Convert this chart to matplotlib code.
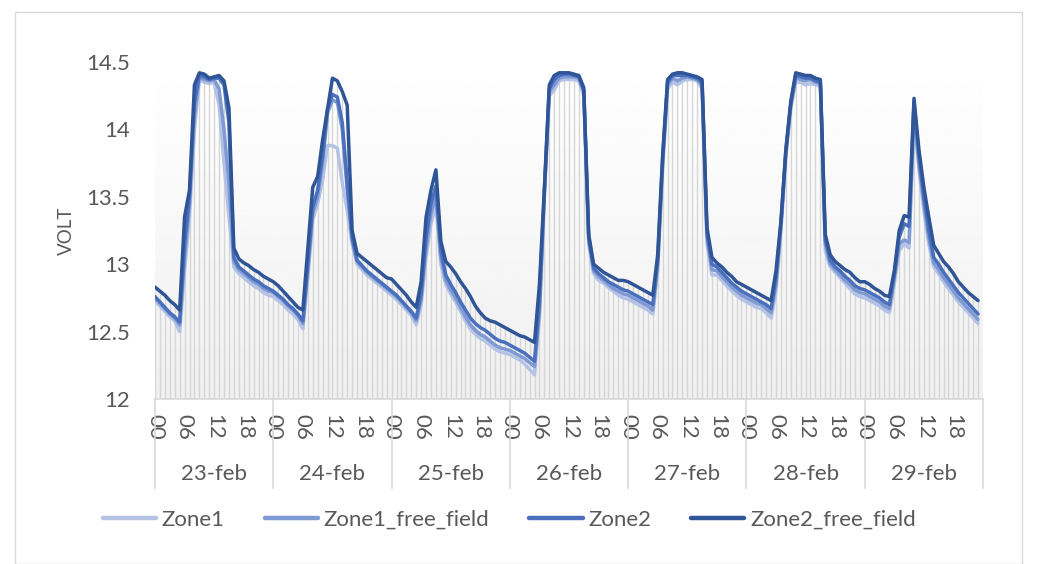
import matplotlib
matplotlib.use("Agg")
import matplotlib.pyplot as plt
import numpy as np
from matplotlib.patches import Rectangle

plt.rcParams['font.family'] = ['Lato', 'DejaVu Sans']

# hourly readings, 23-feb 00:00 .. 29-feb 23:00
days = ['23-feb', '24-feb', '25-feb', '26-feb', '27-feb', '28-feb', '29-feb']
hour_labels = ['00', '06', '12', '18']

zone1 = [
    12.73, 12.69, 12.65, 12.61, 12.58, 12.50, 12.95, 13.35, 14.00, 14.37, 14.35, 14.34, 14.35, 14.18, 13.75, 13.35, 12.98, 12.93, 12.90, 12.87, 12.84, 12.82, 12.79, 12.77,
    12.76, 12.73, 12.70, 12.66, 12.63, 12.59, 12.52, 12.90, 13.33, 13.45, 13.62, 13.88, 13.88, 13.86, 13.60, 13.40, 13.15, 13.00, 12.96, 12.92, 12.89, 12.86, 12.83, 12.80,
    12.77, 12.74, 12.70, 12.66, 12.62, 12.55, 12.70, 13.05, 13.30, 13.45, 13.00, 12.85, 12.78, 12.72, 12.65, 12.58, 12.52, 12.48, 12.45, 12.43, 12.40, 12.37, 12.35, 12.34,
    12.33, 12.31, 12.29, 12.26, 12.22, 12.18, 12.60, 13.50, 14.25, 14.29, 14.36, 14.37, 14.37, 14.37, 14.36, 14.25, 13.15, 12.93, 12.88, 12.86, 12.83, 12.80, 12.77, 12.75,
    12.74, 12.72, 12.70, 12.68, 12.66, 12.63, 12.95, 13.70, 14.30, 14.35, 14.33, 14.36, 14.37, 14.37, 14.36, 14.30, 13.15, 12.92, 12.92, 12.88, 12.84, 12.80, 12.77, 12.74,
    12.72, 12.70, 12.68, 12.67, 12.64, 12.60, 12.80, 13.25, 13.80, 14.15, 14.35, 14.35, 14.33, 14.34, 14.33, 14.32, 13.10, 12.98, 12.94, 12.90, 12.86, 12.82, 12.78, 12.76,
    12.75, 12.73, 12.71, 12.69, 12.66, 12.64, 12.85, 13.10, 13.15, 13.12, 14.10, 13.70, 13.40, 13.15, 12.98, 12.93, 12.87, 12.82, 12.77, 12.72, 12.68, 12.64, 12.60, 12.56,
]
zone1_ff = [
    12.75, 12.71, 12.67, 12.63, 12.60, 12.55, 13.05, 13.45, 14.10, 14.39, 14.37, 14.36, 14.37, 14.30, 14.00, 13.60, 13.02, 12.96, 12.93, 12.90, 12.87, 12.85, 12.82, 12.80,
    12.79, 12.76, 12.73, 12.69, 12.66, 12.62, 12.56, 12.95, 13.38, 13.50, 13.75, 14.12, 14.22, 14.20, 14.00, 13.55, 13.18, 13.02, 12.98, 12.94, 12.91, 12.88, 12.85, 12.82,
    12.79, 12.76, 12.72, 12.68, 12.64, 12.58, 12.74, 13.12, 13.38, 13.50, 13.05, 12.88, 12.81, 12.75, 12.68, 12.61, 12.55, 12.51, 12.48, 12.46, 12.43, 12.40, 12.38, 12.37,
    12.36, 12.34, 12.32, 12.30, 12.27, 12.24, 12.65, 13.52, 14.28, 14.33, 14.38, 14.39, 14.39, 14.39, 14.38, 14.28, 13.18, 12.95, 12.91, 12.88, 12.85, 12.82, 12.80, 12.78,
    12.77, 12.75, 12.73, 12.71, 12.69, 12.66, 13.00, 13.75, 14.33, 14.38, 14.36, 14.38, 14.39, 14.38, 14.37, 14.33, 13.20, 12.96, 12.95, 12.91, 12.87, 12.83, 12.80, 12.77,
    12.75, 12.73, 12.71, 12.70, 12.67, 12.64, 12.85, 13.28, 13.82, 14.18, 14.38, 14.37, 14.36, 14.37, 14.35, 14.34, 13.15, 13.00, 12.96, 12.92, 12.88, 12.85, 12.81, 12.79,
    12.78, 12.76, 12.74, 12.72, 12.69, 12.67, 12.90, 13.15, 13.18, 13.16, 14.15, 13.75, 13.45, 13.20, 13.01, 12.96, 12.90, 12.85, 12.80, 12.75, 12.71, 12.67, 12.63, 12.59,
]
zone2 = [
    12.76, 12.72, 12.68, 12.64, 12.61, 12.57, 13.15, 13.50, 14.20, 14.40, 14.39, 14.37, 14.38, 14.38, 14.33, 14.05, 13.05, 12.98, 12.95, 12.92, 12.89, 12.87, 12.84, 12.82,
    12.80, 12.77, 12.74, 12.70, 12.67, 12.63, 12.58, 13.00, 13.42, 13.55, 13.80, 14.15, 14.26, 14.24, 14.05, 13.60, 13.20, 13.03, 12.99, 12.95, 12.92, 12.89, 12.86, 12.83,
    12.80, 12.77, 12.73, 12.69, 12.65, 12.60, 12.78, 13.20, 13.45, 13.58, 13.10, 12.92, 12.85, 12.79, 12.72, 12.66, 12.60, 12.56, 12.53, 12.51, 12.48, 12.45, 12.43, 12.42,
    12.40, 12.38, 12.36, 12.34, 12.31, 12.28, 12.72, 13.54, 14.30, 14.37, 14.40, 14.41, 14.41, 14.40, 14.39, 14.29, 13.20, 12.97, 12.93, 12.90, 12.87, 12.85, 12.83, 12.81,
    12.80, 12.78, 12.76, 12.74, 12.72, 12.70, 13.03, 13.78, 14.35, 14.40, 14.40, 14.40, 14.40, 14.39, 14.38, 14.35, 13.23, 13.00, 12.98, 12.94, 12.90, 12.86, 12.83, 12.80,
    12.78, 12.76, 12.74, 12.72, 12.70, 12.67, 12.90, 13.30, 13.84, 14.19, 14.40, 14.39, 14.38, 14.38, 14.36, 14.35, 13.18, 13.03, 12.98, 12.95, 12.91, 12.88, 12.84, 12.82,
    12.81, 12.79, 12.77, 12.75, 12.72, 12.70, 12.92, 13.20, 13.30, 13.28, 14.20, 13.80, 13.50, 13.25, 13.05, 13.00, 12.94, 12.89, 12.84, 12.79, 12.75, 12.71, 12.67, 12.63,
]
zone2_ff = [
    12.83, 12.80, 12.77, 12.73, 12.70, 12.66, 13.35, 13.55, 14.33, 14.42, 14.41, 14.38, 14.39, 14.40, 14.36, 14.16, 13.12, 13.04, 13.01, 12.99, 12.96, 12.94, 12.91, 12.89,
    12.87, 12.84, 12.80, 12.76, 12.72, 12.68, 12.66, 13.12, 13.57, 13.65, 13.92, 14.15, 14.38, 14.36, 14.28, 14.18, 13.25, 13.08, 13.05, 13.02, 12.99, 12.96, 12.93, 12.90,
    12.89, 12.85, 12.81, 12.77, 12.72, 12.68, 12.87, 13.35, 13.55, 13.70, 13.17, 13.02, 12.98, 12.93, 12.87, 12.82, 12.76, 12.69, 12.64, 12.60, 12.58, 12.57, 12.55, 12.53,
    12.51, 12.49, 12.47, 12.46, 12.44, 12.42, 12.85, 13.56, 14.33, 14.40, 14.42, 14.42, 14.42, 14.41, 14.40, 14.31, 13.22, 13.00, 12.97, 12.94, 12.92, 12.90, 12.88, 12.88,
    12.87, 12.85, 12.83, 12.81, 12.79, 12.77, 13.07, 13.81, 14.37, 14.41, 14.42, 14.42, 14.41, 14.40, 14.39, 14.37, 13.27, 13.05, 13.01, 12.98, 12.94, 12.91, 12.87, 12.85,
    12.83, 12.81, 12.79, 12.77, 12.75, 12.73, 12.95, 13.32, 13.85, 14.21, 14.42, 14.41, 14.40, 14.40, 14.38, 14.37, 13.22, 13.07, 13.02, 12.99, 12.96, 12.94, 12.90, 12.87,
    12.87, 12.85, 12.82, 12.80, 12.77, 12.76, 12.95, 13.25, 13.36, 13.35, 14.23, 13.85, 13.57, 13.35, 13.14, 13.08, 13.02, 12.98, 12.93, 12.87, 12.83, 12.79, 12.76, 12.73,
]

series = [
    ('Zone1', zone1, '#b4c3e5'),
    ('Zone1_free_field', zone1_ff, '#7f9ad3'),
    ('Zone2', zone2, '#4a70bd'),
    ('Zone2_free_field', zone2_ff, '#2f5597'),
]

txt = '#595959'
grid = '#d9d9d9'
fs = 16
n = len(zone1)
hours = np.arange(n)

fig = plt.figure(figsize=(10.37, 5.64), dpi=100)
ax = fig.add_axes([155 / 1037, 1 - 399 / 564, 828 / 1037, 337 / 564])

# light gradient behind the plot area
grad = np.linspace(0.94, 1.0, 256).reshape(-1, 1)
ax.imshow(grad, extent=[0, n, 12, 14.5], origin='lower', aspect='auto',
          cmap='gray', vmin=0, vmax=1, zorder=0)

# drop lines
top = np.max([zone1, zone1_ff, zone2, zone2_ff], axis=0)
ax.vlines(hours, 12, top, color='#d6d6d6', lw=1.0, zorder=1)

for name, vals, col in series:
    ax.plot(hours, vals, color=col, lw=2.5, label=name, zorder=3,
            solid_joinstyle='round', solid_capstyle='round')

ax.set_xlim(0, n)
ax.set_ylim(12, 14.5)
ax.set_yticks([12, 12.5, 13, 13.5, 14, 14.5])
ax.set_yticklabels(['12', '12.5', '13', '13.5', '14', '14.5'])
ax.tick_params(axis='y', length=0, pad=18, labelsize=fs, labelcolor=txt)
ax.set_ylabel('VOLT', fontsize=13.5, color=txt, labelpad=8)

ticks = [d * 24 + int(h) for d in range(len(days)) for h in hour_labels]
ax.set_xticks(ticks)
ax.set_xticklabels(hour_labels * len(days), rotation=270)
ax.tick_params(axis='x', length=0, pad=11, labelsize=fs, labelcolor=txt)

for s in ['top', 'right', 'left']:
    ax.spines[s].set_visible(False)
ax.spines['bottom'].set_color(grid)
ax.spines['bottom'].set_linewidth(1.2)

trans = ax.get_xaxis_transform()
for d in range(len(days) + 1):
    ax.plot([d * 24, d * 24], [0, -0.265], color=grid, lw=1.2,
            transform=trans, clip_on=False)
for d, lab in enumerate(days):
    ax.text(d * 24 + 12, -0.222, lab, transform=trans, ha='center', va='center',
            fontsize=fs, color=txt)

leg = fig.legend(loc='center', bbox_to_anchor=(0.491, 0.078), ncol=4, frameon=False,
                 fontsize=fs, handlelength=2.4, handletextpad=0.25, columnspacing=1.8)
for t in leg.get_texts():
    t.set_color(txt)
for h in leg.legend_handles:
    h.set_linewidth(3.2)

fig.patches.append(Rectangle((15 / 1037, 0), 1007 / 1037, 1 - 12 / 564,
                             transform=fig.transFigure, fill=False,
                             edgecolor=grid, lw=1))

fig.savefig('out.png', dpi=100, facecolor='white')
